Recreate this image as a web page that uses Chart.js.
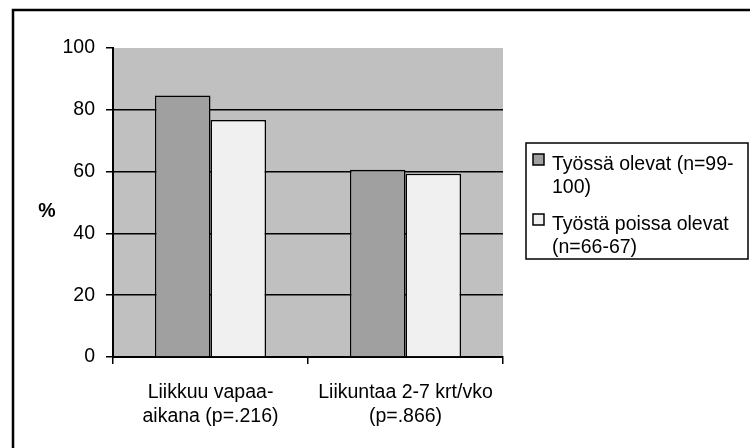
<!DOCTYPE html>
<html>
<head>
<meta charset="utf-8">
<script src="https://cdn.jsdelivr.net/npm/chart.js@4"></script>
<style>
  html, body { margin: 0; padding: 0; background: #fff; }
  #wrap { width: 750px; height: 448px; position: relative; }
</style>
</head>
<body>
<div id="wrap"><canvas id="chart" width="750" height="448"></canvas></div>
<script>
// data
const categories = [["Liikkuu vapaa-", "aikana (p=.216)"], ["Liikuntaa 2-7 krt/vko", "(p=.866)"]];
const seriesNames = [["Työssä olevat (n=99-", "100)"], ["Työstä poissa olevat", "(n=66-67)"]];
const tyossa = [84.6, 60.6];
const poissa = [76.7, 59.3];
const yTicks = [0, 20, 40, 60, 80, 100];

const FONT = '"Liberation Sans", Arial, sans-serif';
const colors = ['#a0a0a0', '#f0f0f0'];

// grey plot background + outer frame + "%" label
const decorations = {
    id: 'decorations',
    beforeDraw(chart) {
        const { ctx, chartArea } = chart;
        ctx.save();
        ctx.fillStyle = '#c0c0c0';
        ctx.fillRect(chartArea.left, chartArea.top, chartArea.right - chartArea.left, chartArea.bottom - chartArea.top);
        ctx.strokeStyle = '#000';
        ctx.lineWidth = 2.5;
        ctx.beginPath();
        ctx.moveTo(13, 448);
        ctx.lineTo(13, 10);
        ctx.lineTo(750, 10);
        ctx.stroke();
        ctx.fillStyle = '#000';
        ctx.font = 'bold 19.5px ' + FONT;
        ctx.textAlign = 'center';
        ctx.textBaseline = 'middle';
        ctx.fillText('%', 47, 212);
        ctx.restore();
    }
};

// legend box on the right, with wrapped lines
const sideLegend = {
    id: 'sideLegend',
    afterDraw(chart) {
        const { ctx } = chart;
        ctx.save();
        ctx.strokeStyle = '#000';
        ctx.lineWidth = 1.5;
        ctx.strokeRect(526, 143, 222, 116);
        ctx.font = '19.5px ' + FONT;
        ctx.textAlign = 'left';
        ctx.textBaseline = 'middle';
        const starts = [165, 225];
        chart.data.datasets.forEach((ds, i) => {
            const y0 = starts[i];
            ctx.fillStyle = ds.backgroundColor;
            ctx.fillRect(533, y0 - 11, 11, 11);
            ctx.lineWidth = 1.5;
            ctx.strokeRect(533, y0 - 11, 11, 11);
            ctx.fillStyle = '#000';
            ds.label.forEach((line, j) => {
                ctx.fillText(line, 552, y0 + j * 23);
            });
        });
        ctx.restore();
    }
};

new Chart(document.getElementById('chart'), {
    type: 'bar',
    data: {
        labels: categories,
        datasets: [
            { label: seriesNames[0], data: tyossa, backgroundColor: colors[0] },
            { label: seriesNames[1], data: poissa, backgroundColor: colors[1] }
        ]
    },
    options: {
        responsive: false,
        animation: false,
        devicePixelRatio: 1,
        layout: { padding: { left: 0, top: 48, right: 247, bottom: 0 } },
        datasets: {
            bar: {
                categoryPercentage: 0.57,
                barPercentage: 1.0,
                borderColor: '#000',
                borderWidth: 1.5
            }
        },
        plugins: {
            legend: { display: false },
            tooltip: { enabled: false }
        },
        scales: {
            x: {
                afterFit(scale) { scale.height = 91; },
                grid: {
                    offset: true,
                    drawOnChartArea: false,
                    drawTicks: true,
                    tickLength: 7,
                    tickColor: '#000',
                    lineWidth: 1.5
                },
                border: { display: true, color: '#000', width: 2 },
                ticks: {
                    color: '#000',
                    font: { family: FONT, size: 19.5, lineHeight: 1.22 },
                    padding: 17,
                    maxRotation: 0
                }
            },
            y: {
                min: 0,
                max: 100,
                afterFit(scale) { scale.width = 113; },
                afterBuildTicks(scale) { scale.ticks = yTicks.map(v => ({ value: v })); },
                grid: {
                    color: c => (c.tick && (c.tick.value === 100 || c.tick.value === 0)) ? 'rgba(0,0,0,0)' : '#000',
                    tickColor: '#000',
                    lineWidth: 1.5,
                    tickLength: 7
                },
                border: { display: true, color: '#000', width: 2 },
                ticks: {
                    color: '#000',
                    font: { family: FONT, size: 19.5 },
                    padding: 11
                }
            }
        }
    },
    plugins: [decorations, sideLegend]
});
</script>
</body>
</html>
